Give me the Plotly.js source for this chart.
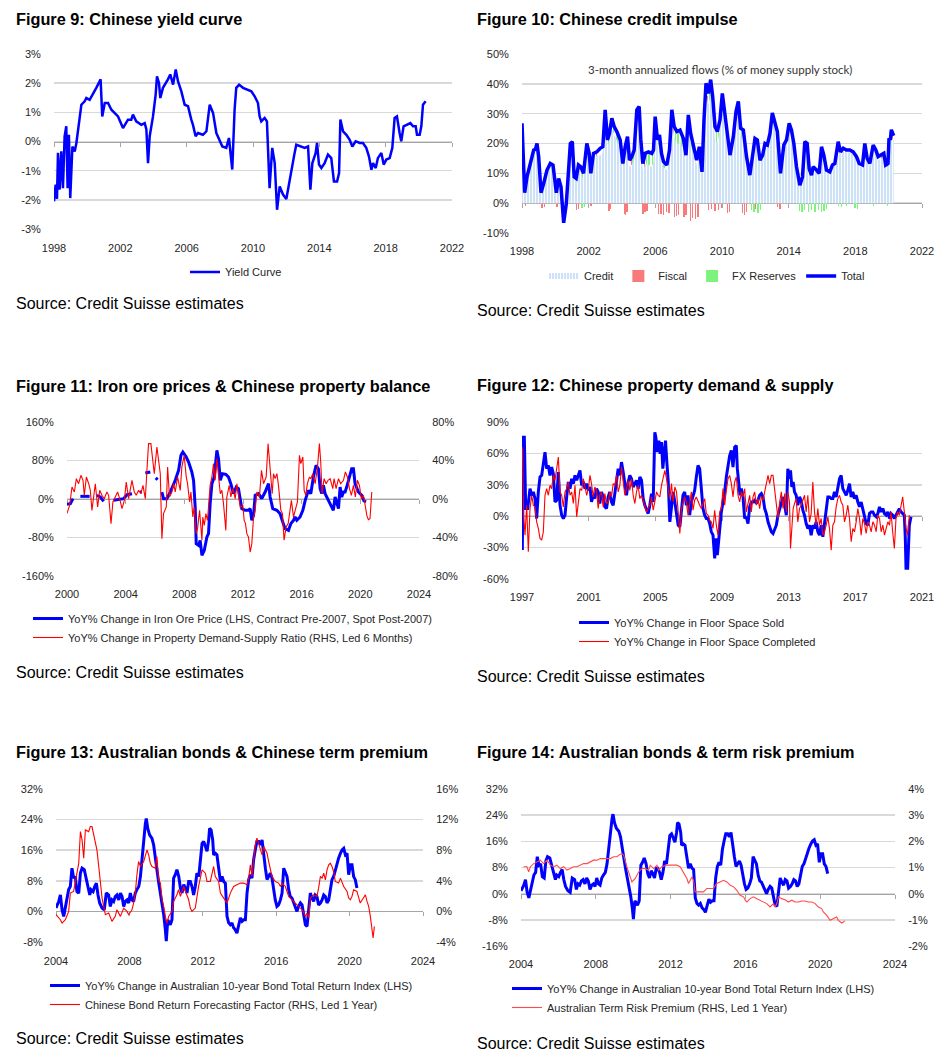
<!DOCTYPE html>
<html><head><meta charset="utf-8">
<script src="https://cdn.plot.ly/plotly-3.0.1.min.js"></script>
<style>html,body{margin:0;padding:0;background:#fff}#chart{width:950px;height:1060px}</style>
</head><body><div id="chart"></div>
<script>
// ---------- Figure 9: Chinese yield curve ----------
const yieldDates = [1998.00,1998.10,1998.18,1998.24,1998.34,1998.44,1998.54,1998.64,1998.74,1998.82,
1998.90,1998.98,1999.11,1999.25,1999.35,1999.55,1999.65,1999.85,1999.95,2000.15,
2000.35,2000.55,2000.81,2000.91,2001.06,2001.26,2001.46,2001.66,2001.86,2002.16,
2002.46,2002.66,2002.76,2002.96,2003.27,2003.47,2003.57,2003.67,2003.77,2003.97,
2004.13,2004.21,2004.33,2004.41,2004.57,2004.87,2005.01,2005.18,2005.34,2005.48,
2005.68,2005.88,2006.08,2006.28,2006.38,2006.54,2006.68,2006.98,2007.19,2007.39,
2007.59,2007.79,2007.99,2008.15,2008.39,2008.55,2008.75,2008.89,2008.99,2009.16,
2009.40,2009.70,2009.90,2010.10,2010.30,2010.40,2010.50,2010.70,2010.84,2011.00,
2011.16,2011.31,2011.45,2011.61,2011.81,2012.01,2012.21,2012.37,2012.51,2012.61,
2012.91,2013.12,2013.32,2013.46,2013.58,2013.78,2013.86,2013.98,2014.12,2014.32,
2014.52,2014.72,2014.88,2015.07,2015.19,2015.27,2015.43,2015.63,2015.83,2015.99,
2016.19,2016.43,2016.63,2016.83,2016.99,2017.14,2017.24,2017.40,2017.53,2017.74,
2017.88,2018.04,2018.24,2018.40,2018.54,2018.68,2018.84,2018.94,2019.08,2019.35,
2019.49,2019.65,2019.81,2019.89,2020.05,2020.15,2020.25,2020.41];
const yieldVals = [-2.05,-1.48,-1.97,-0.39,-1.65,-0.34,-1.60,0.18,0.52,-1.60,
0.23,-1.94,-0.17,-0.34,-0.05,0.75,1.26,1.38,1.49,1.43,
1.66,1.84,2.13,0.86,1.32,1.32,1.09,0.98,0.86,0.46,
0.75,0.75,0.92,0.69,0.57,0.63,0.41,-0.74,0.18,0.86,
1.61,2.23,2.01,1.49,1.84,2.13,2.30,1.95,2.47,2.06,
1.72,1.26,1.21,0.75,0.57,0.18,0.29,0.23,0.35,1.26,
0.98,0.29,0.06,-0.17,-0.22,0.12,-0.96,1.09,1.84,1.95,
1.84,1.78,1.72,1.55,1.32,0.86,0.69,0.81,0.69,-1.60,
-0.22,-0.74,-2.34,-1.54,-1.82,-1.97,-1.31,-0.74,-0.39,-0.11,
-0.17,-0.22,-0.17,-1.65,-0.74,-0.39,-0.05,-0.79,-0.91,-0.74,
-0.45,-0.57,-1.37,-1.37,-1.08,0.75,0.35,0.23,0.06,-0.17,
0.01,-0.05,-0.05,-0.22,-0.51,-0.97,-0.74,-0.91,-0.57,-0.39,
-0.79,-0.62,-0.57,-0.22,0.81,0.86,0.29,0.01,0.52,0.58,
0.63,0.52,0.52,0.23,0.23,0.52,1.26,1.38];

// ---------- Figure 10: Chinese credit impulse ----------
const impulseDates = [1998.00,1998.06,1998.16,1998.30,1998.50,1998.70,1998.80,1998.90,1999.00,1999.14,
1999.30,1999.50,1999.70,1999.86,2000.06,2000.20,2000.34,2000.50,2000.66,2000.80,
2000.90,2001.02,2001.13,2001.25,2001.39,2001.53,2001.69,2001.89,2002.03,2002.13,
2002.29,2002.49,2002.69,2002.85,2002.99,2003.13,2003.25,2003.39,2003.53,2003.69,
2003.89,2004.05,2004.19,2004.33,2004.45,2004.59,2004.73,2004.89,2005.03,2005.13,
2005.25,2005.39,2005.59,2005.79,2005.89,2005.99,2006.13,2006.25,2006.37,2006.49,
2006.69,2006.85,2006.99,2007.13,2007.29,2007.48,2007.68,2007.84,2007.98,2008.12,
2008.28,2008.48,2008.64,2008.80,2008.92,2009.04,2009.18,2009.32,2009.44,2009.58,
2009.72,2009.88,2010.02,2010.18,2010.32,2010.48,2010.68,2010.84,2010.98,2011.12,
2011.28,2011.47,2011.67,2011.84,2011.98,2012.12,2012.28,2012.44,2012.58,2012.72,
2012.88,2013.02,2013.18,2013.32,2013.51,2013.71,2013.87,2014.03,2014.17,2014.31,
2014.47,2014.67,2014.83,2014.97,2015.11,2015.23,2015.37,2015.47,2015.67,2015.83,
2015.97,2016.11,2016.27,2016.47,2016.63,2016.77,2016.97,2017.11,2017.27,2017.47,
2017.67,2017.87,2018.07,2018.23,2018.43,2018.57,2018.71,2018.87,2019.07,2019.23,
2019.37,2019.57,2019.71,2019.82,2019.96,2020.02,2020.10,2020.16,2020.30];
const totalVals = [26.8,15.6,3.5,8.8,13.3,17.8,18.0,20.0,15.6,3.5,
6.6,11.1,13.3,12.8,3.5,8.3,5.5,-6.6,-0.1,10.0,
20.0,20.6,8.8,8.3,12.8,12.2,10.0,20.0,16.7,10.0,
16.7,17.2,18.4,18.9,31.3,21.2,23.4,28.5,25.7,24.0,
21.2,13.3,18.9,22.3,14.4,15.6,17.8,31.3,32.4,21.2,
13.3,16.7,17.2,16.7,17.8,29.0,21.2,22.9,16.7,13.9,
12.8,17.8,31.3,25.7,24.0,24.5,21.7,16.1,29.6,23.4,
18.9,14.4,18.9,10.5,27.9,40.2,36.8,41.4,35.8,25.7,
24.0,27.9,36.8,29.4,23.4,16.1,22.3,30.7,34.1,25.1,
24.5,15.6,9.4,16.7,21.7,21.2,14.4,16.1,20.0,19.5,
23.4,30.2,26.3,24.0,10.0,19.5,21.2,26.8,24.5,20.0,
12.2,6.0,8.8,20.6,20.0,11.6,9.4,12.2,11.1,10.0,
18.9,16.1,11.1,10.5,12.8,13.3,20.6,17.2,18.4,17.8,
17.8,17.2,15.6,13.3,12.8,20.0,15.0,13.3,19.5,17.8,
15.6,16.1,16.7,12.8,13.3,21.7,21.2,24.6,22.6];
const creditVals = [26,15,3.5,8.5,13,17,17,19,15,3.5,
6.5,11,13,12.5,3,7.5,3,0,0,9,
19,19.5,8.5,8,12,11.5,7,19,15,9,
15,16,16,17,29,19,21,25,23,21,
18,12,16,19,12,13,15,29,30,18,
11,13,13,12,14,26,19,20,14,12,
11,16,29,22,20,20,18,14,27,20,
16,13,17,10,26,37,33,36,30,21,
20,25,34,27,21,15,20,27,31,22,
22,14,9,15,20,20,13.5,15,19,18.5,
22,28.5,25,23,9.5,18,20,25,23.5,19,
11.5,6,8.5,19.5,19.5,11,9,11.5,10.5,9.5,
18,15,10.5,9.5,12,12.5,19.5,16.5,17.5,17,
17,16.5,15,12.5,12,19,14,12.5,18.5,17,
14.5,15,16,12,12.5,20,19.5,22,21];
const fiscalDates = [1998.20,1999.20,1999.34,2000.10,2001.25,2001.37,2002.13,2003.21,2003.29,2004.13,
2004.21,2004.29,2005.25,2005.37,2005.49,2006.19,2006.33,2006.49,2006.65,2006.81,
2007.13,2007.25,2007.39,2007.72,2007.84,2008.12,2008.24,2008.40,2008.56,2009.20,
2009.38,2009.58,2009.78,2009.98,2010.32,2010.44,2011.24,2011.36,2011.48,2011.98,
2012.12,2013.32,2013.48,
2002.45,2003.00,2004.10,2004.60,2005.35,2006.90,2007.10,2008.05,2009.00,2009.12,
2009.45,2010.20,2010.40,2011.95,2012.85,2013.20,2014.10,2014.95,2015.25,2016.20,
2016.95,2017.40,2018.00,2018.55,2018.95,2019.20,2019.60,2019.95,2020.20];
const fiscalVals = [-0.8,-1.6,-1.2,-1.4,-2.4,-1.8,-0.8,-2.6,-1.8,-3.5,
-4.0,-3.0,-3.5,-3.0,-2.5,-3.6,-3.5,-3.8,-3.0,-3.3,
-4.8,-4.4,-3.8,-4.5,-3.9,-6.0,-5.0,-5.2,-4.5,-2.4,
-1.8,-2.6,-2.2,-1.6,-3.2,-2.8,-3.4,-4.0,-3.0,-2.0,
-2.4,-1.4,-1.8,
16.8,30.5,14,15,15,18,26.5,25,34,36,
33,27.5,19,20,22.3,25.5,25.2,18.8,11.2,13.2,
19.7,17.9,16.1,18.9,15.7,18,16.1,13.1,23.5];
const fxDates = [2001.59,2001.73,2011.78,2011.92,2012.16,2012.32,2014.63,2014.79,2014.95,2015.17,
2015.37,2015.57,2015.77,2015.97,2016.11,2016.27,2016.97,2017.17,2017.47,2017.97,
2018.11,2019.07,2019.91,
2001.62,2003.20,2003.50,2003.70,2003.90,2004.25,2004.40,2004.65,2004.78,2005.18,
2005.45,2005.62,2005.82,2006.17,2006.30,2006.52,2007.22,2007.36,2007.56,2007.72,
2008.20,2008.36,2009.08,2009.28,2009.50,2009.65,2009.80,2010.10,2010.62,2010.92,
2011.17,2011.32,2011.52];
const fxVals = [-1.5,-1.2,-2.2,-2.8,-3.4,-2.2,-2.5,-3.0,-2.2,-2.8,
-2.4,-2.8,-2.4,-3.0,-2.6,-1.8,-1.0,-1.2,-0.8,-1.6,
-1.8,-1.0,-1.0,
10.5,22,26,23.5,20.5,20,17.2,16,21,17.5,
16.5,16.8,16.7,21.5,20,13.5,24.5,24,23,20,
21,16.5,39,39.8,31,24.6,25.7,32.8,20.2,32.3,
24.6,22.3,13.9];

// ---------- Figure 11: Iron ore & property balance ----------
const ironDates = [2000.00,2000.23,2000.41,2000.60,
2000.91,2001.54,2001.80,
2002.04,2002.27,2002.50,2002.80,
2003.18,2003.52,2003.86,2004.09,2004.43,2004.80,
2004.98,2005.11,2005.20,
2005.34,2005.68,2005.90,
2006.05,2006.18,2006.30,
2006.47,2006.58,2006.81,2007.04,2007.38,2007.61,2007.77,2007.90,2008.13,2008.29,
2008.51,2008.63,2008.74,2008.81,2008.97,2009.08,2009.20,2009.36,2009.54,2009.65,
2009.76,2009.88,2010.04,2010.22,2010.33,2010.45,2010.60,2010.83,2011.01,2011.17,
2011.35,2011.54,2011.69,2011.81,2011.92,2012.15,2012.37,2012.49,2012.60,2012.72,
2012.83,2013.06,2013.28,2013.51,2013.74,2013.85,2014.03,2014.31,2014.53,2014.71,
2014.87,2015.10,2015.26,2015.44,2015.55,2015.67,2015.89,2016.08,2016.24,2016.46,
2016.62,2016.80,2016.98,2017.14,2017.26,2017.37,2017.48,2017.60,2017.82,2017.98,
2018.16,2018.28,2018.39,2018.51,2018.62,2018.73,2018.85,2018.96,2019.07,2019.26,
2019.41,2019.53,2019.64,2019.87,2020.10,2020.25,2020.39];
const ironVals = [-11.1,-9.7,0.7,null,
5.5,5.5,null,
7.6,4.2,-4.8,null,
-2.8,-1.4,0.7,9.0,11.1,null,
14.5,14.5,null,
54.0,56.1,null,
44.0,40.0,null,
14.5,0.7,0.7,14.5,38.8,59.6,90.7,97.6,87.3,76.9,
56.1,38.8,-16.6,-92.8,-96.3,-85.9,-117.0,-106.6,-78.9,-72.0,
-9.7,31.9,45.7,101.1,83.8,38.8,52.6,51.2,45.7,31.9,
11.1,24.9,21.5,-6.2,-20.1,-23.5,-23.5,-20.1,-44.3,-33.9,
7.6,11.1,0.7,14.5,31.9,4.2,-20.1,-23.5,-30.5,-47.8,
-61.6,-65.1,-51.2,-44.3,-37.4,-44.3,-37.4,-23.5,-2.8,18.0,
11.1,45.7,69.9,63.0,21.5,11.1,28.4,11.1,-2.8,-13.2,
-23.5,4.2,-6.2,-20.1,24.9,4.2,14.5,14.5,24.9,49.2,
63.0,63.0,31.9,14.5,7.6,-4.2,-6.2];
const propDates = [2000.00,2000.18,2000.34,2000.50,2000.64,2000.79,2000.95,2001.09,2001.18,2001.32,
2001.48,2001.59,2001.70,2001.82,2001.93,2002.09,2002.23,2002.38,2002.54,2002.72,
2002.84,2003.00,2003.13,2003.29,2003.45,2003.59,2003.75,2003.91,2004.04,2004.20,
2004.31,2004.43,2004.59,2004.72,2004.88,2005.04,2005.18,2005.34,2005.45,2005.56,
2005.72,2005.86,2005.95,2006.13,2006.24,2006.36,2006.47,2006.58,2006.77,2006.86,
2006.99,2007.15,2007.27,2007.38,2007.54,2007.72,2007.83,2007.99,2008.13,2008.22,
2008.36,2008.45,2008.58,2008.67,2008.81,2008.90,2009.04,2009.20,2009.26,2009.36,
2009.47,2009.58,2009.76,2009.88,2009.99,2010.10,2010.22,2010.33,2010.45,2010.56,
2010.67,2010.83,2010.90,2011.06,2011.17,2011.31,2011.47,2011.58,2011.69,2011.81,
2011.99,2012.08,2012.17,2012.26,2012.37,2012.49,2012.60,2012.72,2012.83,2012.94,
2013.12,2013.26,2013.40,2013.58,2013.71,2013.85,2013.99,2014.08,2014.19,2014.31,
2014.42,2014.58,2014.69,2014.80,2014.94,2015.08,2015.21,2015.30,2015.44,2015.58,
2015.71,2015.85,2015.94,2016.08,2016.17,2016.28,2016.39,2016.53,2016.62,2016.76,
2016.92,2017.08,2017.21,2017.30,2017.39,2017.53,2017.67,2017.80,2017.94,2018.12,
2018.21,2018.35,2018.51,2018.66,2018.85,2018.98,2019.12,2019.26,2019.39,2019.53,
2019.66,2019.80,2019.94,2020.07,2020.21,2020.35,2020.44,2020.55,2020.66,2020.78];
const propVals = [-15,-6.6,12.5,7.3,21.1,15.9,24.6,19.4,3.8,22.9,
15.9,9.0,-11.8,2.1,15.9,-8.3,9.0,3.8,0.3,7.3,
3.8,-25.6,-3.1,2.1,7.3,0.3,-10.0,-1.4,17.7,0.3,
10.7,19.4,7.3,3.8,9.0,5.5,14.2,0.3,29.8,57.5,
57.5,33.2,26.3,54.0,40.2,26.3,-41.2,-15.2,-8.3,33.2,
2.1,7.3,15.9,7.3,22.9,9.0,33.2,45.4,22.9,15.9,
-3.1,7.3,-18.7,-8.3,-36.0,-30.8,-11.8,-42.9,-18.7,-27.4,
-15.2,-22.2,14.2,22.9,36.7,19.4,41.9,26.3,5.5,9.0,
-4.8,-32.6,2.1,14.2,2.1,10.7,0.3,15.9,5.5,-8.3,
-6.6,-22.2,-25.6,-36.0,-39.5,-55.1,-46.4,-18.7,-11.8,7.3,
2.1,29.8,15.9,22.9,57.5,29.8,5.5,26.3,21.1,26.3,
14.2,-11.8,-15.2,-42.9,-29.1,-25.6,-8.3,-1.4,-18.7,-11.8,
-3.1,45.4,36.7,43.6,9.0,3.8,15.9,22.9,21.1,26.3,
15.9,33.2,57.5,38.4,5.5,21.1,15.9,19.4,21.1,10.7,
21.1,10.7,21.1,15.9,19.4,28.1,22.9,10.7,3.8,14.2,
2.1,19.4,14.2,0.3,3.8,-8.3,-17.0,-21.5,-20.4,7.3];

// ---------- Figure 12: Property demand & supply ----------
const soldDates = [1997.02,1997.08,1997.14,1997.22,1997.34,1997.48,1997.58,1997.68,1997.78,1997.88,
1997.98,1998.08,1998.18,1998.28,1998.38,1998.48,1998.58,1998.68,1998.78,1998.88,
1998.98,1999.08,1999.18,1999.28,1999.38,1999.48,1999.58,1999.68,1999.78,1999.88,
1999.98,2000.08,2000.18,2000.28,2000.38,2000.48,2000.58,2000.68,2000.78,2000.88,
2000.98,2001.08,2001.17,2001.27,2001.37,2001.47,2001.57,2001.67,2001.77,2001.87,
2001.97,2002.07,2002.17,2002.27,2002.37,2002.47,2002.57,2002.67,2002.77,2002.87,
2002.97,2003.07,2003.17,2003.27,2003.37,2003.47,2003.57,2003.67,2003.77,2003.87,
2003.97,2004.07,2004.17,2004.27,2004.37,2004.47,2004.57,2004.67,2004.77,2004.87,
2004.97,2005.03,2005.13,2005.21,2005.29,2005.37,2005.45,2005.53,2005.61,2005.69,
2005.77,2005.87,2005.97,2006.07,2006.17,2006.27,2006.37,2006.47,2006.57,2006.66,
2006.76,2006.86,2006.96,2007.06,2007.16,2007.26,2007.36,2007.46,2007.56,2007.66,
2007.76,2007.86,2007.96,2008.06,2008.16,2008.26,2008.36,2008.46,2008.56,2008.66,
2008.72,2008.80,2008.88,2008.96,2009.06,2009.16,2009.26,2009.36,2009.46,2009.56,
2009.66,2009.76,2009.86,2009.92,2010.00,2010.08,2010.16,2010.26,2010.36,2010.46,
2010.56,2010.66,2010.76,2010.86,2010.96,2011.06,2011.16,2011.26,2011.36,2011.46,
2011.56,2011.66,2011.76,2011.86,2011.96,2012.06,2012.16,2012.26,2012.36,2012.46,
2012.56,2012.66,2012.76,2012.86,2012.95,2013.05,2013.11,2013.19,2013.27,2013.35,
2013.45,2013.55,2013.65,2013.75,2013.85,2013.95,2014.05,2014.15,2014.25,2014.35,
2014.45,2014.55,2014.65,2014.75,2014.85,2014.95,2015.05,2015.15,2015.25,2015.35,
2015.45,2015.55,2015.65,2015.75,2015.85,2015.95,2016.05,2016.15,2016.25,2016.35,
2016.45,2016.55,2016.65,2016.75,2016.85,2016.95,2017.05,2017.15,2017.25,2017.35,
2017.45,2017.55,2017.65,2017.75,2017.85,2017.95,2018.05,2018.15,2018.25,2018.35,
2018.45,2018.55,2018.65,2018.75,2018.85,2018.95,2019.05,2019.14,2019.24,2019.34,
2019.44,2019.54,2019.64,2019.74,2019.84,2019.94,2020.00,2020.04,2020.14,2020.24,
2020.34];
const soldVals = [-32.4,75.5,75.5,7.3,7.3,26.3,20.0,23.2,16.8,-2.2,
23.2,37.4,39.0,48.5,61.2,45.4,48.5,39.0,46.9,40.6,
13.6,15.2,42.2,10.5,1.0,-2.2,1.0,18.4,32.7,26.3,
35.8,31.1,39.0,34.3,39.0,43.8,29.5,32.7,26.3,31.1,
24.7,27.9,13.6,20.0,16.8,26.3,23.2,12.1,23.2,18.4,
8.9,7.3,18.4,23.2,13.6,10.5,21.6,35.8,45.4,39.0,
51.7,42.2,31.1,20.0,32.7,39.0,35.8,27.9,31.1,34.3,
26.3,37.4,34.3,16.8,10.5,5.7,2.5,10.5,21.6,13.6,
80.2,75.5,61.2,72.3,59.6,70.7,45.4,59.6,72.3,51.7,
34.3,-5.4,7.3,23.2,13.6,4.1,-8.6,-10.1,7.3,20.0,
23.2,10.5,20.0,1.0,13.6,20.0,24.7,37.4,48.5,45.4,
26.3,7.3,1.0,-2.2,-2.2,-7.0,-14.9,-18.1,-40.3,-21.2,
-37.1,-22.8,-5.4,4.1,13.6,23.2,37.4,48.5,58.0,62.8,
46.9,66.0,67.6,45.4,31.1,20.0,26.3,18.4,-2.2,-0.6,
-7.0,8.9,13.6,13.6,15.2,12.1,15.2,20.0,21.6,18.4,
7.3,2.5,-5.4,-10.1,-14.9,-16.5,-13.3,-8.6,1.0,7.3,
13.6,18.4,10.5,1.0,45.4,35.8,43.8,27.9,32.7,23.2,
20.0,10.5,18.4,15.2,5.7,1.0,-7.0,-11.7,-8.6,-18.1,
-8.6,-11.7,-5.4,-14.9,-18.1,-8.6,-19.7,-5.4,10.5,18.4,
18.4,16.8,16.8,23.2,18.4,29.5,35.8,39.0,26.3,23.2,
20.0,24.7,31.1,18.4,23.2,16.8,20.0,13.6,8.9,13.6,
7.3,1.0,-7.0,-8.6,2.5,4.1,4.1,1.0,-0.6,2.5,
8.9,4.1,7.3,2.5,1.0,4.1,-2.2,2.5,1.0,-2.2,
1.0,5.7,7.3,4.1,2.5,1.0,-21.2,-49.8,-49.8,-8.6,
-0.6];
const completedDates = [1997.02,1997.10,1997.18,1997.28,1997.38,1997.48,1997.58,1997.68,1997.78,1997.88,
1997.98,1998.08,1998.18,1998.28,1998.38,1998.48,1998.58,1998.68,1998.78,1998.88,
1998.98,1999.08,1999.18,1999.28,1999.38,1999.48,1999.58,1999.68,1999.78,1999.88,
1999.98,2000.08,2000.18,2000.28,2000.38,2000.48,2000.58,2000.68,2000.78,2000.88,
2000.98,2001.08,2001.17,2001.27,2001.37,2001.47,2001.57,2001.67,2001.77,2001.87,
2001.97,2002.07,2002.17,2002.27,2002.37,2002.47,2002.57,2002.67,2002.77,2002.87,
2002.97,2003.07,2003.17,2003.27,2003.37,2003.47,2003.57,2003.67,2003.77,2003.87,
2003.97,2004.07,2004.17,2004.27,2004.37,2004.47,2004.57,2004.67,2004.77,2004.87,
2004.97,2005.07,2005.17,2005.27,2005.37,2005.47,2005.57,2005.67,2005.77,2005.87,
2005.97,2006.07,2006.17,2006.27,2006.37,2006.47,2006.57,2006.66,2006.76,2006.86,
2006.96,2007.06,2007.16,2007.26,2007.36,2007.46,2007.56,2007.66,2007.76,2007.86,
2007.96,2008.06,2008.16,2008.26,2008.36,2008.46,2008.56,2008.66,2008.76,2008.86,
2008.96,2009.06,2009.16,2009.26,2009.36,2009.46,2009.56,2009.66,2009.76,2009.86,
2009.96,2010.06,2010.16,2010.26,2010.36,2010.46,2010.56,2010.66,2010.76,2010.86,
2010.96,2011.06,2011.16,2011.26,2011.36,2011.46,2011.56,2011.66,2011.76,2011.86,
2011.96,2012.06,2012.16,2012.26,2012.36,2012.46,2012.56,2012.66,2012.76,2012.86,
2012.95,2013.05,2013.11,2013.19,2013.27,
2013.35,2013.45,2013.55,2013.65,2013.75,2013.85,2013.95,2014.05,2014.15,2014.25,
2014.35,2014.45,2014.55,2014.65,2014.75,2014.85,2014.95,2015.05,2015.15,2015.25,
2015.35,2015.45,2015.55,2015.65,2015.75,2015.85,2015.95,2016.05,2016.15,2016.25,
2016.35,2016.45,2016.55,2016.65,2016.75,2016.85,2016.95,2017.05,2017.15,2017.25,
2017.35,2017.45,2017.55,2017.65,2017.75,2017.85,2017.95,2018.05,2018.15,2018.25,
2018.35,2018.45,2018.55,2018.65,2018.75,2018.85,2018.95,2019.05,2019.14,2019.24,
2019.34,2019.44,2019.54,2019.64,2019.74,2019.84,2019.94,2020.04,2020.14,2020.24];
const completedVals = [66.0,1.0,-18.1,10.5,-33.9,7.3,20.0,10.5,8.9,-5.4,
-11.7,-21.2,-22.8,-14.9,20.0,26.3,20.0,29.5,26.3,39.0,
34.3,48.5,56.5,23.2,20.0,8.9,23.2,26.3,32.7,20.0,
23.2,12.1,29.5,-0.6,13.6,26.3,24.7,35.8,27.9,20.0,
26.3,39.0,31.1,18.4,27.9,24.7,7.3,20.0,23.2,8.9,
21.6,12.1,13.6,23.2,18.4,31.1,29.5,39.0,23.2,29.5,
46.9,29.5,20.0,26.3,34.3,24.7,35.8,20.0,12.1,23.2,
29.5,16.8,20.0,15.2,10.5,4.1,7.3,10.5,18.4,5.7,
13.6,23.2,20.0,18.4,29.5,35.8,43.8,35.8,27.9,16.8,
31.1,13.6,27.9,23.2,4.1,-16.5,7.3,12.1,18.4,13.6,
1.0,12.1,23.2,5.7,15.2,18.4,13.6,10.5,7.3,12.1,
16.8,2.5,1.0,-3.8,-5.4,-11.7,5.7,-8.6,-18.1,4.1,
7.3,26.3,10.5,24.7,35.8,39.0,31.1,18.4,32.7,37.4,
20.0,13.6,23.2,18.4,26.3,4.1,12.1,20.0,4.1,18.4,
23.2,10.5,16.8,7.3,18.4,15.2,23.2,32.7,39.0,31.1,
39.0,39.0,23.2,13.6,-2.2,13.6,23.2,7.3,21.6,4.1,
23.2,13.6,-30.8,-11.7,7.3,
12.1,16.8,-5.4,7.3,10.5,15.2,20.0,4.1,20.0,-5.4,
2.5,32.7,4.1,-8.6,7.3,-8.6,-2.2,-18.1,-14.9,-8.6,
-0.6,-11.7,-32.4,-8.6,-5.4,8.9,16.8,20.0,13.6,10.5,
-5.4,1.0,10.5,-2.2,-24.4,-11.7,-14.9,-5.4,7.3,-2.2,
-18.1,-2.2,-7.0,-16.5,-5.4,-8.6,-14.9,-5.4,-8.6,-14.9,
1.0,-2.2,-14.9,-8.6,-18.1,-11.7,-5.4,-8.6,4.1,-14.9,
-30.8,-2.2,4.1,1.0,10.5,18.4,4.1,-11.7,-18.1,1.0];

// ---------- Figures 13 & 14: Australian bonds ----------
const ausBondDates = [2004.00,2004.15,2004.24,2004.33,2004.42,2004.51,2004.60,2004.69,2004.78,2004.87,
2004.96,2005.05,2005.14,2005.24,2005.33,2005.42,2005.54,2005.65,2005.74,2005.84,
2005.91,2006.02,2006.11,2006.20,2006.29,2006.38,2006.51,2006.63,2006.74,2006.87,
2006.96,2007.05,2007.14,2007.23,2007.32,2007.42,2007.51,2007.60,2007.69,2007.78,
2007.87,2007.96,2008.05,2008.14,2008.23,2008.32,2008.41,2008.51,2008.60,2008.69,
2008.78,2008.87,2008.92,2009.00,2009.10,2009.23,2009.32,2009.41,2009.50,2009.60,
2009.69,2009.78,2009.87,2009.96,2010.01,2010.09,2010.14,2010.23,2010.32,2010.41,
2010.50,2010.59,2010.69,2010.78,2010.87,2010.96,2011.05,2011.14,2011.23,2011.32,
2011.41,2011.50,2011.59,2011.68,2011.78,2011.87,2011.96,2012.05,2012.14,2012.23,
2012.32,2012.37,2012.45,2012.54,2012.59,2012.68,2012.77,2012.87,2012.96,2013.05,
2013.14,2013.23,2013.32,2013.41,2013.50,2013.59,2013.68,2013.77,2013.86,2013.96,
2014.05,2014.14,2014.23,2014.32,2014.41,2014.50,2014.59,2014.68,2014.77,2014.86,
2014.95,2015.05,2015.14,2015.23,2015.32,2015.41,2015.50,2015.59,2015.68,2015.77,
2015.86,2015.95,2016.04,2016.13,2016.23,2016.32,2016.41,2016.50,2016.59,2016.68,
2016.77,2016.86,2016.95,2017.04,2017.13,2017.22,2017.32,2017.41,2017.50,2017.59,
2017.68,2017.77,2017.86,2017.95,2018.04,2018.13,2018.22,2018.31,2018.41,2018.50,
2018.59,2018.68,2018.77,2018.86,2018.95,2019.04,2019.13,2019.22,2019.31,2019.40,
2019.50,2019.59,2019.68,2019.77,2019.86,2019.95,2020.04,2020.13,2020.22,2020.31,
2020.40];
const ausBondVals = [0.9,2.6,4.3,0.4,-1.3,0.9,3.5,5.7,6.5,11.3,
8.7,9.1,5.2,4.8,10.0,11.3,10.9,8.3,5.7,4.3,
5.7,5.2,6.5,7.4,4.3,2.2,0.9,0.4,4.8,4.3,
1.3,3.0,2.6,3.9,4.3,3.0,4.8,3.9,1.3,2.6,
3.0,2.2,4.8,3.0,2.6,4.8,5.7,6.5,9.1,14.3,
19.6,23.0,24.3,21.7,20.0,19.1,17.4,13.5,10.9,7.4,
4.8,2.2,-0.9,-4.8,-7.8,-2.2,-2.6,-3.5,-2.2,8.7,
9.6,10.9,9.1,6.1,4.8,7.0,6.1,4.8,7.8,7.8,
6.5,4.3,6.5,10.0,9.1,13.5,17.8,18.3,17.0,15.7,
18.7,21.7,21.3,18.7,14.8,15.2,14.8,10.9,7.8,9.1,
7.8,7.4,-1.3,-3.0,-3.5,-3.0,-4.3,-4.8,-5.7,-3.5,
-1.7,-2.6,-2.2,-2.2,4.8,8.3,9.6,8.7,13.5,16.1,
18.3,18.3,17.4,18.7,14.3,11.3,8.3,9.1,10.0,8.7,
5.7,3.0,1.3,1.7,3.0,4.8,11.3,10.4,9.1,5.7,
3.9,3.5,2.2,1.3,0.0,1.3,2.2,1.7,-1.3,-3.5,
-3.9,0.0,4.8,3.5,2.6,4.3,3.9,1.7,2.2,3.0,
4.3,3.9,2.2,3.0,6.1,8.3,9.1,10.9,12.6,13.9,
15.2,16.1,16.5,14.8,15.2,9.6,12.2,12.2,9.1,8.3,
6.1];
const cnFactorDates = [2004.00,2004.24,2004.33,2004.51,2004.69,2004.78,2004.96,2005.05,2005.24,2005.33,
2005.42,2005.51,2005.60,2005.78,2005.87,2005.96,2006.14,2006.23,2006.33,2006.42,
2006.51,2006.69,2006.87,2007.05,2007.23,2007.32,2007.51,2007.69,2007.87,2007.96,
2008.14,2008.23,2008.32,2008.41,2008.50,2008.60,2008.78,2008.96,2009.05,2009.14,
2009.23,2009.41,2009.50,2009.59,2009.69,2009.78,2009.87,2009.96,2010.05,2010.14,
2010.32,2010.41,2010.59,2010.68,2010.78,2010.96,2011.14,2011.23,2011.32,2011.41,
2011.59,2011.68,2011.77,2011.96,2012.14,2012.23,2012.41,2012.59,2012.68,2012.86,
2012.96,2013.14,2013.32,2013.50,2013.68,2013.86,2014.05,2014.23,2014.41,2014.50,
2014.59,2014.68,2014.77,2014.86,2014.95,2015.14,2015.23,2015.32,2015.50,2015.59,
2015.77,2015.95,2016.13,2016.23,2016.32,2016.50,2016.68,2016.86,2017.04,2017.22,
2017.41,2017.59,2017.68,2017.77,2017.86,2018.04,2018.22,2018.31,2018.41,2018.50,
2018.59,2018.68,2018.77,2018.86,2018.95,2019.04,2019.13,2019.22,2019.40,2019.50,
2019.68,2019.86,2019.95,2020.04,2020.13,2020.22,2020.40,2020.58,2020.77,2020.86,
2020.95,2021.04,2021.13,2021.22,2021.28,2021.35];
const cnFactorVals = [-0.43,-1.09,-1.52,-1.09,0,2.39,2.61,3.91,6.30,10.43,
9.35,6.96,10.65,10.43,11.09,11.09,8.91,8.04,5.87,4.13,
1.74,-0.43,-0.22,-1.30,-0.65,0.22,-0.65,0.43,0,-0.43,
0.22,1.09,2.39,4.78,6.52,5.87,6.52,8.04,7.39,6.30,
5.87,5.65,7.17,4.13,3.70,1.52,0.65,-0.65,-1.52,-0.65,
0,1.30,2.17,2.83,1.96,3.26,1.96,1.52,0.43,0,
0.43,2.17,3.26,5.43,5.0,3.91,3.91,5.87,4.57,3.91,
2.39,1.74,1.09,2.39,3.26,3.48,3.70,3.70,3.48,4.35,
6.09,4.57,6.52,8.70,9.57,8.26,7.39,8.48,7.61,6.52,
4.57,3.91,3.70,3.26,3.70,3.26,1.96,1.52,1.09,0.65,
0.22,-0.65,-0.22,-0.87,1.74,2.17,1.96,3.04,4.57,4.35,
5.0,4.13,5.43,6.09,6.30,5.87,5.22,3.91,3.70,4.35,
3.26,2.61,1.74,1.52,1.96,2.83,2.61,1.09,1.96,2.17,
1.30,0.65,-0.65,-2.17,-3.48,-1.96];
const termPremDates = [2004.14,2004.32,2004.41,2004.50,2004.68,2004.85,2005.03,2005.21,2005.39,2005.57,
2005.75,2005.92,2006.10,2006.28,2006.46,2006.64,2006.81,2006.99,2007.17,2007.35,
2007.53,2007.70,2007.88,2008.06,2008.24,2008.42,2008.59,2008.77,2008.95,2009.13,
2009.31,2009.40,2009.49,2009.57,2009.66,2009.84,2009.93,2010.11,2010.29,2010.46,
2010.64,2010.82,2010.91,2011.09,2011.27,2011.36,2011.53,2011.80,2011.98,2012.16,
2012.33,2012.51,2012.69,2012.87,2012.96,2013.14,2013.23,2013.31,2013.58,2013.76,
2013.94,2014.12,2014.29,2014.47,2014.65,2014.83,2015.01,2015.19,2015.37,2015.54,
2015.72,2015.90,2015.99,2016.08,2016.25,2016.43,2016.61,2016.79,2016.97,2017.14,
2017.32,2017.50,2017.59,2017.68,2017.77,2017.94,2018.12,2018.30,2018.48,2018.66,
2018.84,2019.01,2019.19,2019.37,2019.55,2019.73,2019.90,2020.08,2020.17,2020.35,
2020.53,2020.71,2020.88,2020.97,2021.15,2021.33];
const termPremVals = [1.03,1.03,0.83,1.03,1.15,1.22,1.28,1.15,1.28,1.09,
1.03,1.09,0.96,1.03,0.90,0.96,1.03,1.03,1.09,1.15,
1.15,1.22,1.28,1.28,1.34,1.34,1.34,1.34,1.41,1.41,
1.51,1.53,1.47,1.22,1.03,0.64,0.45,0.58,0.83,0.96,
0.96,0.90,1.09,0.96,1.09,0.90,1.03,1.09,1.09,1.09,
1.09,1.03,0.83,0.58,0.39,0.64,0.51,0.07,0.07,0.07,
0.20,0.20,0.20,0.39,0.45,0.51,0.45,0.32,0.26,0.13,
-0.06,-0.12,-0.25,-0.32,-0.19,-0.12,-0.19,-0.25,-0.32,-0.38,
-0.51,-0.38,-0.51,-0.38,-0.12,-0.19,-0.23,-0.32,-0.25,-0.32,
-0.32,-0.28,-0.28,-0.32,-0.32,-0.38,-0.51,-0.57,-0.70,-0.83,
-1.02,-0.95,-0.89,-1.02,-1.12,-1.04];

// ---------- tick labels ----------
const yrTicks9 = [1998,2002,2006,2010,2014,2018,2022];
const yrTicks11 = [2000,2004,2008,2012,2016,2020,2024];
const yrTicks12 = [1997,2001,2005,2009,2013,2017,2021];
const yrTicks13 = [2004,2008,2012,2016,2020,2024];
const y9Ticks = [-3,-2,-1,0,1,2,3];
const y10Ticks = [-10,0,10,20,30,40,50];
const y11LTicks = [-160,-80,0,80,160];
const y11RTicks = [-80,-40,0,40,80];
const y12Ticks = [-60,-30,0,30,60,90];
const y13LTicks = [-8,0,8,16,24,32];
const y13RTicks = [-4,0,4,8,12,16];
const y14LTicks = [-16,-8,0,8,16,24,32];
const y14RTicks = [-2,-1,0,1,2,3,4];
const pct = a => a.map(v => v + '%');
const txt = a => a.map(v => String(v));

// ---------- layout helpers ----------
const W = 950, H = 1060;
const FONT = 'Liberation Sans, Arial, sans-serif';
const TICKFONT = {family: FONT, size: 11, color: '#262626'};
const px = p => p / W, py = p => 1 - p / H;

function xAx(x0, x1, range, ticks, top, bottom, yr) {
  const zeroPx = bottom - (0 - yr[0]) / (yr[1] - yr[0]) * (bottom - top);
  return {domain: [px(x0), px(x1)], range: range, tickmode: 'array', tickvals: ticks, ticktext: txt(ticks),
    anchor: 'free', position: py(zeroPx), showline: true, linecolor: '#a6a6a6', linewidth: 1,
    ticks: 'outside', ticklen: 4, tickcolor: '#a6a6a6', tickwidth: 1, showgrid: false, zeroline: false,
    layer: 'below traces', ticklabelstandoff: Math.round((bottom + 17) - zeroPx - 13),
    tickfont: TICKFONT, fixedrange: true};
}
function yAx(top, bottom, range, ticks, anchor, side, overlaying) {
  const a = {domain: [py(bottom), py(top)], range: range, tickmode: 'array', tickvals: ticks, ticktext: pct(ticks),
    anchor: anchor, side: side || 'left', zeroline: false, showline: false,
    ticks: 'outside', ticklen: 10, tickcolor: 'rgba(0,0,0,0)',
    showgrid: !overlaying, gridcolor: '#d9d9d9', gridwidth: 1.5, tickfont: TICKFONT, fixedrange: true};
  if (overlaying) a.overlaying = overlaying;
  return a;
}

const BLUE = '#0000ff', RED = '#ff0000';
const data = [
  {x: yieldDates, y: yieldVals, xaxis: 'x', yaxis: 'y', type: 'scatter', mode: 'lines',
   line: {color: BLUE, width: 2.5}, name: 'Yield Curve', legend: 'legend'},

  {x: fiscalDates, y: fiscalVals, xaxis: 'x2', yaxis: 'y2', type: 'bar', width: 0.08,
   marker: {color: '#f77b7b', line: {width: 0}}, name: 'Fiscal', legend: 'legend2', legendrank: 2},
  {x: fxDates, y: fxVals, xaxis: 'x2', yaxis: 'y2', type: 'bar', width: 0.08,
   marker: {color: '#7cf47c', line: {width: 0}}, name: 'FX Reserves', legend: 'legend2', legendrank: 3},
  {x: impulseDates, y: creditVals, xaxis: 'x2', yaxis: 'y2', type: 'scatter', mode: 'none',
   fill: 'tozeroy', fillcolor: '#d6e7f9',
   fillpattern: {shape: '|', bgcolor: '#cde1f7', fgcolor: '#ffffff', size: 3, solidity: 0.3},
   name: 'Credit', legend: 'legend2', legendrank: 1},
  {x: impulseDates, y: totalVals, xaxis: 'x2', yaxis: 'y2', type: 'scatter', mode: 'lines',
   line: {color: BLUE, width: 3.5}, name: 'Total', legend: 'legend2', legendrank: 4},

  {x: ironDates, y: ironVals, xaxis: 'x3', yaxis: 'y3', type: 'scatter', mode: 'lines',
   line: {color: BLUE, width: 3}, name: 'YoY% Change in Iron Ore Price (LHS, Contract Pre-2007, Spot Post-2007)',
   legend: 'legend3', legendgroup: 'a3'},
  {x: propDates, y: propVals, xaxis: 'x3', yaxis: 'y4', type: 'scatter', mode: 'lines',
   line: {color: RED, width: 1.1}, name: 'YoY% Change in Property Demand-Supply Ratio (RHS, Led 6 Months)',
   legend: 'legend3', legendgroup: 'b3'},

  {x: soldDates, y: soldVals, xaxis: 'x4', yaxis: 'y5', type: 'scatter', mode: 'lines',
   line: {color: BLUE, width: 3}, name: 'YoY% Change in Floor Space Sold', legend: 'legend4', legendgroup: 'a4'},
  {x: completedDates, y: completedVals, xaxis: 'x4', yaxis: 'y5', type: 'scatter', mode: 'lines',
   line: {color: RED, width: 1.1}, name: 'YoY% Change in Floor Space Completed', legend: 'legend4', legendgroup: 'b4'},

  {x: ausBondDates, y: ausBondVals, xaxis: 'x5', yaxis: 'y6', type: 'scatter', mode: 'lines',
   line: {color: BLUE, width: 3}, name: 'YoY% Change in Australian 10-year Bond Total Return Index (LHS)',
   legend: 'legend5', legendgroup: 'a5'},
  {x: cnFactorDates, y: cnFactorVals, xaxis: 'x5', yaxis: 'y7', type: 'scatter', mode: 'lines',
   line: {color: RED, width: 1.1}, name: 'Chinese Bond Return Forecasting Factor (RHS, Led 1 Year)',
   legend: 'legend5', legendgroup: 'b5'},

  {x: ausBondDates, y: ausBondVals, xaxis: 'x6', yaxis: 'y8', type: 'scatter', mode: 'lines',
   line: {color: BLUE, width: 3}, name: 'YoY% Change in Australian 10-year Bond Total Return Index (LHS)',
   legend: 'legend6', legendgroup: 'a6'},
  {x: termPremDates, y: termPremVals, xaxis: 'x6', yaxis: 'y9', type: 'scatter', mode: 'lines',
   line: {color: '#ff4a4a', width: 1.1}, name: 'Australian Term Risk Premium (RHS, Led 1 Year)',
   legend: 'legend6', legendgroup: 'b6'}
];

function leg(x, y, orient, xanchor) {
  return {x: px(x), y: py(y), xanchor: xanchor || 'left', yanchor: orient === 'h' ? 'middle' : 'top',
    orientation: orient, bgcolor: 'rgba(0,0,0,0)', borderwidth: 0, tracegroupgap: 9,
    font: {family: FONT, size: 11, color: '#262626'}, traceorder: 'normal'};
}

const titles = [
  ['Figure 9: Chinese yield curve', 14, 19], ['Figure 10: Chinese credit impulse', 475, 19],
  ['Figure 11: Iron ore prices & Chinese property balance', 14, 386], ['Figure 12: Chinese property demand & supply', 475, 385],
  ['Figure 13: Australian bonds & Chinese term premium', 14, 752], ['Figure 14: Australian bonds & term risk premium', 475, 752]
];
const sources = [[14, 304], [475, 310], [14, 672], [475, 676], [14, 1038], [475, 1043]];
const annotations = [];
titles.forEach(t => annotations.push({text: '<b>' + t[0] + '</b>', x: px(t[1]), y: py(t[2]), xref: 'paper', yref: 'paper',
  xanchor: 'left', yanchor: 'middle', showarrow: false, font: {family: FONT, size: 16.3, color: '#000'}}));
sources.forEach(s => annotations.push({text: 'Source: Credit Suisse estimates', x: px(s[0]), y: py(s[1]), xref: 'paper', yref: 'paper',
  xanchor: 'left', yanchor: 'middle', showarrow: false, font: {family: FONT, size: 16, color: '#000'}}));
annotations.push({text: '3-month annualized flows (% of money supply stock)', x: px(720), y: py(69), xref: 'paper', yref: 'paper',
  xanchor: 'center', yanchor: 'middle', showarrow: false, font: {family: 'Lato, Open Sans, sans-serif', size: 11.5, color: '#333'}});

const layout = {
  width: W, height: H, margin: {l: 0, r: 0, t: 0, b: 0}, paper_bgcolor: '#fff', plot_bgcolor: 'rgba(0,0,0,0)',
  showlegend: true, barmode: 'overlay', bargap: 0, font: {family: FONT, color: '#262626'},
  xaxis:  xAx(54, 452, [1998, 2022], yrTicks9, 54, 229, [-3, 3]),
  yaxis:  yAx(54, 229, [-3, 3], y9Ticks, 'x'),
  xaxis2: xAx(522, 922, [1998, 2022], yrTicks9, 54, 233, [-10, 50]),
  yaxis2: yAx(54, 233, [-10, 50], y10Ticks, 'x2'),
  xaxis3: xAx(67, 419, [2000, 2024], yrTicks11, 422, 576, [-160, 160]),
  yaxis3: yAx(422, 576, [-160, 160], y11LTicks, 'x3'),
  yaxis4: yAx(422, 576, [-80, 80], y11RTicks, 'x3', 'right', 'y3'),
  xaxis4: xAx(522, 922, [1997, 2021], yrTicks12, 422, 579, [-60, 90]),
  yaxis5: yAx(422, 579, [-60, 90], y12Ticks, 'x4'),
  xaxis5: xAx(56, 423, [2004, 2024], yrTicks13, 789, 942, [-8, 32]),
  yaxis6: yAx(789, 942, [-8, 32], y13LTicks, 'x5'),
  yaxis7: yAx(789, 942, [-4, 16], y13RTicks, 'x5', 'right', 'y6'),
  xaxis6: xAx(521, 895, [2004, 2024], yrTicks13, 789, 946, [-16, 32]),
  yaxis8: yAx(789, 946, [-16, 32], y14LTicks, 'x6'),
  yaxis9: yAx(789, 946, [-2, 4], y14RTicks, 'x6', 'right', 'y8'),
  legend:  leg(185, 272, 'h'),
  legend2: leg(707, 276, 'h', 'center'),
  legend3: leg(28, 604, 'v'),
  legend4: leg(574, 608, 'v'),
  legend5: leg(45, 971, 'v'),
  legend6: leg(507, 974, 'v'),
  annotations: annotations
};

Plotly.newPlot('chart', data, layout, {displayModeBar: false, staticPlot: true});
</script>
</body></html>
